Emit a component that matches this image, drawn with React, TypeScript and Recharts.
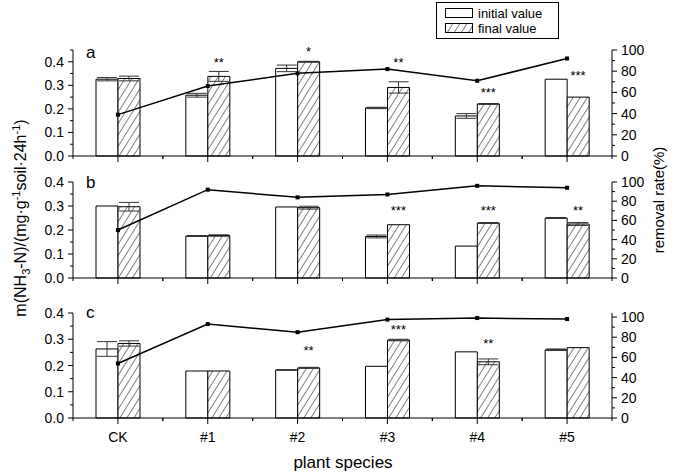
import { Bar, ComposedChart, ErrorBar, Line, Scatter, XAxis, YAxis } from "recharts";

const FONT = "'Liberation Sans', Arial, sans-serif";

const SPECIES = ["CK", "#1", "#2", "#3", "#4", "#5"];

// panel a
const A_INITIAL = [0.326, 0.258, 0.372, 0.204, 0.17, 0.326];
const A_INITIAL_ERR = [0.007, 0.008, 0.014, 0.003, 0.01, 0];
const A_FINAL = [0.329, 0.338, 0.4, 0.291, 0.221, 0.25];
const A_FINAL_ERR = [0.01, 0.021, 0.002, 0.024, 0.002, 0];
const A_RATE = [39, 66, 78, 82, 71, 92];
const A_SIG = ["", "**", "*", "**", "***", "***"];
const A_SIG_Y = [null, 0.405, 0.45, 0.405, 0.275, 0.35];

// panel b
const B_INITIAL = [0.3, 0.175, 0.296, 0.173, 0.133, 0.25];
const B_INITIAL_ERR = [0, 0.002, 0, 0.006, 0, 0.002];
const B_FINAL = [0.297, 0.177, 0.293, 0.222, 0.229, 0.225];
const B_FINAL_ERR = [0.018, 0.003, 0.006, 0, 0.002, 0.006];
const B_RATE = [50, 92, 84, 87, 96, 94];
const B_SIG = ["", "", "", "***", "***", "**"];
const B_SIG_Y = [null, null, null, 0.287, 0.287, 0.287];

// panel c
const C_INITIAL = [0.263, 0.179, 0.183, 0.197, 0.252, 0.26];
const C_INITIAL_ERR = [0.028, 0, 0.001, 0, 0, 0.003];
const C_FINAL = [0.284, 0.179, 0.191, 0.297, 0.214, 0.268];
const C_FINAL_ERR = [0.01, 0, 0.002, 0.003, 0.011, 0];
const C_RATE = [54, 93, 85, 97.5, 99, 98];
const C_SIG = ["", "", "**", "***", "**", ""];
const C_SIG_Y = [null, null, 0.262, 0.343, 0.289, null];

const LEFT_TICKS_A = [0, 0.05, 0.1, 0.15, 0.2, 0.25, 0.3, 0.35, 0.4, 0.45];
const LEFT_TICKS = [0, 0.05, 0.1, 0.15, 0.2, 0.25, 0.3, 0.35, 0.4];
const RIGHT_TICKS = [0, 10, 20, 30, 40, 50, 60, 70, 80, 90, 100];

function makeRows(init, initErr, fin, finErr, rate, sig, sigY) {
  return SPECIES.map((name, i) => ({
    name,
    init: init[i],
    initErr: initErr[i],
    fin: fin[i],
    finErr: finErr[i],
    rate: rate[i],
    sig: sig[i],
    sigY: sigY[i],
  }));
}

const isTenth = (v: number) => Math.abs(v * 10 - Math.round(v * 10)) < 1e-6;

function LeftTick({ x, y, payload }: any) {
  const major = isTenth(payload.value);
  return (
    <g>
      <line x1={x} x2={x - (major ? 5 : 3)} y1={y} y2={y} stroke="#000" />
      {major && (
        <text x={x - 9} y={y} dy={5} textAnchor="end" fontSize={14} fontFamily={FONT} fill="#000">
          {payload.value.toFixed(1)}
        </text>
      )}
    </g>
  );
}

function RightTick({ x, y, payload }: any) {
  const major = payload.value % 20 === 0;
  return (
    <g>
      <line x1={x} x2={x + (major ? 5 : 3)} y1={y} y2={y} stroke="#000" />
      {major && (
        <text x={x + 9} y={y} dy={5} textAnchor="start" fontSize={14} fontFamily={FONT} fill="#000">
          {payload.value}
        </text>
      )}
    </g>
  );
}

// center tick + label per category, short ticks at the band edges
function XTick({ x, y, payload, showNames }: any) {
  const half = payload.offset || 0;
  return (
    <g stroke="#000">
      <line x1={x} x2={x} y1={y} y2={y + 6} />
      {half > 0 && <line x1={x - half} x2={x - half} y1={y} y2={y + 3} />}
      {half > 0 && <line x1={x + half} x2={x + half} y1={y} y2={y + 3} />}
      {showNames && (
        <text x={x} y={y + 24} textAnchor="middle" fontSize={14} fontFamily={FONT} fill="#000" stroke="none">
          {payload.value}
        </text>
      )}
    </g>
  );
}

function SquareDot(props: any) {
  const { cx, cy, index } = props;
  return <rect key={`dot-${index}`} x={cx - 2} y={cy - 2} width={4} height={4} fill="#000" />;
}

function SigMark(props: any) {
  const { cx, cy, payload } = props;
  if (!payload.sig) return <g />;
  return (
    <text x={cx + 11} y={cy + 6} textAnchor="middle" fontSize={13} fontFamily={FONT} fill="#000">
      {payload.sig}
    </text>
  );
}

function Panel({ rows, id, top, height, leftMax, leftTicks, rightMax, showNames }: any) {
  const hatch = `hatch-${id}`;
  return (
    <div style={{ position: "absolute", left: 0, top }}>
      <ComposedChart
        width={676}
        height={height}
        data={rows}
        margin={{ top: 10, right: 24, bottom: 0, left: 33 }}
        barGap={0}
        barSize={22}
      >
        <defs>
          <pattern id={hatch} width="6" height="6" patternUnits="userSpaceOnUse" patternTransform="rotate(32)">
            <rect width="6" height="6" fill="#fff" />
            <line x1="0" y1="0" x2="0" y2="6" stroke="#000" strokeWidth="1" />
          </pattern>
        </defs>
        <XAxis
          dataKey="name"
          type="category"
          interval={0}
          height={showNames ? 30 : 14}
          tickLine={false}
          tickSize={0}
          tickMargin={0}
          axisLine={{ stroke: "#000" }}
          tick={(p: any) => <XTick {...p} showNames={showNames} />}
        />
        <YAxis
          yAxisId="left"
          domain={[0, leftMax]}
          ticks={leftTicks}
          interval={0}
          width={40}
          tickLine={false}
          tickSize={0}
          tickMargin={0}
          axisLine={{ stroke: "#000" }}
          tick={LeftTick}
        />
        <YAxis
          yAxisId="right"
          orientation="right"
          domain={[0, rightMax]}
          ticks={RIGHT_TICKS}
          interval={0}
          width={40}
          tickLine={false}
          tickSize={0}
          tickMargin={0}
          axisLine={{ stroke: "#000" }}
          tick={RightTick}
        />
        <Bar yAxisId="left" dataKey="init" fill="#fff" stroke="#000" isAnimationActive={false}>
          <ErrorBar dataKey="initErr" width={10} stroke="#333" strokeWidth={1} />
        </Bar>
        <Bar yAxisId="left" dataKey="fin" fill={`url(#${hatch})`} stroke="#000" isAnimationActive={false}>
          <ErrorBar dataKey="finErr" width={10} stroke="#333" strokeWidth={1} />
        </Bar>
        <Line
          yAxisId="right"
          dataKey="rate"
          type="linear"
          stroke="#000"
          strokeWidth={1.5}
          dot={SquareDot}
          activeDot={false}
          isAnimationActive={false}
        />
        <Scatter yAxisId="left" dataKey="sigY" shape={SigMark} isAnimationActive={false} />
      </ComposedChart>
    </div>
  );
}

export default function App() {
  const rowsA = makeRows(A_INITIAL, A_INITIAL_ERR, A_FINAL, A_FINAL_ERR, A_RATE, A_SIG, A_SIG_Y);
  const rowsB = makeRows(B_INITIAL, B_INITIAL_ERR, B_FINAL, B_FINAL_ERR, B_RATE, B_SIG, B_SIG_Y);
  const rowsC = makeRows(C_INITIAL, C_INITIAL_ERR, C_FINAL, C_FINAL_ERR, C_RATE, C_SIG, C_SIG_Y);

  return (
    <div style={{ position: "absolute", left: 0, top: 0, width: 676, height: 474, background: "#fff", fontFamily: FONT }}>
      <Panel rows={rowsA} id="a" top={40} height={130} leftMax={0.45} leftTicks={LEFT_TICKS_A} rightMax={100} showNames={false} />
      <Panel rows={rowsB} id="b" top={172} height={120} leftMax={0.4} leftTicks={LEFT_TICKS} rightMax={100} showNames={false} />
      <Panel rows={rowsC} id="c" top={303} height={145} leftMax={0.4} leftTicks={LEFT_TICKS} rightMax={104} showNames />

      <svg width={676} height={474} style={{ position: "absolute", left: 0, top: 0, pointerEvents: "none" }}>
        <defs>
          <pattern id="hatch-legend" width="6" height="6" patternUnits="userSpaceOnUse" patternTransform="rotate(32)">
            <rect width="6" height="6" fill="#fff" />
            <line x1="0" y1="0" x2="0" y2="6" stroke="#000" strokeWidth="1" />
          </pattern>
        </defs>
        <g fontFamily={FONT} fill="#000">
          <rect x={436.5} y={2.5} width={122} height={36} fill="#fff" stroke="#000" />
          <rect x={445.5} y={8.5} width={27} height={9} fill="#fff" stroke="#000" />
          <text x={478} y={18} fontSize={13}>initial value</text>
          <rect x={445.5} y={23.5} width={27} height={9} fill="url(#hatch-legend)" stroke="#000" />
          <text x={478} y={33} fontSize={13}>final value</text>

          <text x={86} y={58} fontSize={17}>a</text>
          <text x={86} y={188} fontSize={17}>b</text>
          <text x={86} y={318} fontSize={17}>c</text>

          <text x={343} y={468} fontSize={17} textAnchor="middle">plant species</text>
          <text transform="translate(664 200) rotate(-90)" fontSize={15} textAnchor="middle">removal rate(%)</text>
          <text transform="translate(26 218) rotate(-90)" fontSize={16} textAnchor="middle">
            m(NH<tspan fontSize={11} dy={4}>3</tspan>
            <tspan dy={-4}>-N)/(mg·g</tspan>
            <tspan fontSize={11} dy={-6}>-1</tspan>
            <tspan dy={6}>soil·24h</tspan>
            <tspan fontSize={11} dy={-6}>-1</tspan>
            <tspan dy={6}>)</tspan>
          </text>
        </g>
      </svg>
    </div>
  );
}
